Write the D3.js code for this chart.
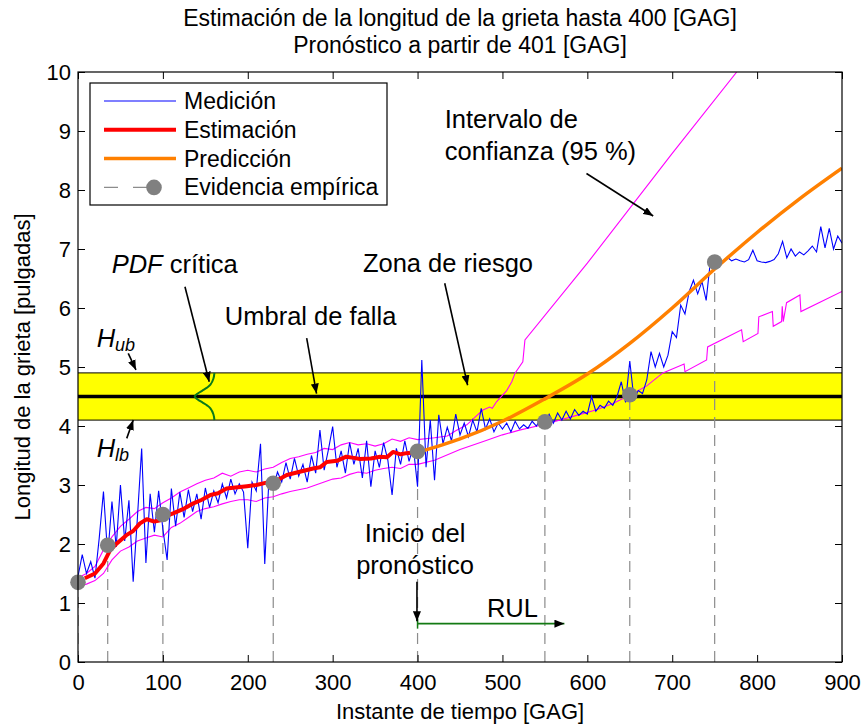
<!DOCTYPE html>
<html>
<head>
<meta charset="utf-8">
<title>Longitud de la grieta</title>
<script src="https://cdn.jsdelivr.net/npm/d3@7"></script>
<style>
body { margin: 0; background: #fff; }
svg text { font-family: "Liberation Sans", Arial, Helvetica, sans-serif; fill: #000; }
</style>
</head>
<body>
<div id="chart"></div>
<script>

// medición: una lectura cada 5 GAG, de 0 a 900
var measStep = 5;
var measLen = [
  1.45,1.82,1.5,1.7,1.42,2.1,2.89,1.8,2.72,1.95,3.0,2.05,2.74,1.36,2.45,3.62,1.68,2.85,2.2,2.9,
  2.25,1.73,2.94,2.3,2.88,2.45,2.92,2.55,2.85,2.42,2.95,2.62,2.9,2.7,3.02,2.78,3.1,2.85,3.02,2.88,
  1.93,3.05,2.9,3.7,1.66,3.12,2.95,3.22,3.05,3.38,3.1,3.45,3.15,3.35,3.05,3.5,3.2,3.93,3.25,3.6,
  3.99,3.3,3.58,3.2,3.72,3.35,3.62,3.12,3.75,2.97,3.58,3.3,3.72,3.42,2.83,3.62,3.35,3.75,3.4,3.65,
  2.97,5.12,3.3,4.1,3.08,4.19,3.7,3.98,3.75,4.2,3.85,4.05,3.82,4.1,3.9,4.3,3.95,4.12,3.9,4.05,
  3.95,4.05,3.9,4.08,3.95,4.02,3.96,4.08,4.0,4.12,4.05,4.2,4.05,4.22,4.1,4.25,4.12,4.28,4.18,4.25,
  4.2,4.5,4.25,4.35,4.3,4.42,4.35,4.5,4.75,4.4,5.1,4.45,4.6,4.55,4.78,5.26,5.0,5.23,5.0,5.2,
  5.6,5.5,6.05,5.9,6.28,6.47,6.24,6.45,6.13,6.8,6.8,6.82,6.79,6.86,6.8,6.83,6.8,6.78,6.82,6.98,
  6.8,6.78,6.77,6.79,6.82,6.92,7.13,6.85,7.0,6.88,6.95,6.9,6.97,7.05,6.95,7.38,7.02,7.35,7.0,7.22,
  7.1];

// estimación (hasta 400 GAG)
var estT = [8,20,30,38,45,57,65,73,81,90,97,105,112,125,136,146,156,165,175,188,
  199,210,222,232,246,260,277,285,293,305,316,325,332,345,356,364,371,380,387,395,400];
var estY = [1.42,1.5,1.67,1.9,2.0,2.15,2.22,2.35,2.42,2.38,2.4,2.48,2.52,2.6,2.69,2.75,2.83,2.86,2.94,2.96,
  2.98,3.0,3.04,3.06,3.17,3.22,3.28,3.3,3.39,3.41,3.48,3.46,3.44,3.45,3.48,3.47,3.56,3.52,3.54,3.55,3.57];

// predicción (desde 400 GAG)
var predT = [400,450,500,550,600,650,700,750,800,850,900];
var predY = [3.55,3.78,4.08,4.46,4.88,5.4,6.0,6.66,7.28,7.85,8.37];

// intervalo de confianza 95 %: [instante, longitud]
var ciUpper = [[3,1.45],[10,1.5],[20,1.62],[30,1.9],[40,2.12],[50,2.3],[60,2.42],[70,2.55],[80,2.62],[90,2.6],
  [100,2.7],[110,2.78],[120,2.88],[130,2.95],[140,3.02],[150,3.08],[160,3.12],[170,3.2],[180,3.15],[190,3.22],
  [200,3.25],[210,3.22],[220,3.27],[230,3.3],[240,3.38],[250,3.45],[260,3.48],[270,3.52],[280,3.55],[290,3.62],
  [300,3.6],[310,3.68],[320,3.72],[330,3.68],[340,3.7],[350,3.66],[360,3.7],[370,3.78],[380,3.74],[390,3.8],
  [400,3.77],[420,3.8],[435,3.83],[445,3.92],[458,4.02],[470,4.18],[477,4.27],[485,4.32],[488,4.3],[493,4.41],
  [505,4.6],[511,4.75],[515,4.9],[524,5.09],[526.5,5.46],[600,6.76],[700,8.62],[776,10]];
var ciLower = [[3,1.3],[10,1.32],[20,1.38],[30,1.5],[40,1.73],[50,1.88],[60,1.95],[70,2.05],[80,2.1],[90,2.15],
  [100,2.12],[110,2.28],[120,2.35],[130,2.45],[140,2.55],[150,2.6],[160,2.63],[170,2.68],[180,2.72],[190,2.75],
  [200,2.75],[210,2.72],[220,2.78],[230,2.8],[240,2.85],[250,2.89],[260,2.92],[270,2.95],[280,3.0],[290,3.05],
  [300,3.1],[310,3.12],[320,3.18],[330,3.22],[340,3.2],[350,3.25],[360,3.28],[370,3.3],[380,3.28],[390,3.35],
  [400,3.35],[420,3.42],[450,3.6],[480,3.75],[500,3.85],[520,3.93],[550,4.03],[580,4.15],[610,4.27],[630,4.38],
  [650,4.52],[670,4.68],[689,4.9],[714,5.05],[715,4.92],[740.5,5.12],[741.7,5.34],[781.7,5.63],[783.6,5.43],
  [801,5.57],[802,5.85],[818,5.94],[819,5.69],[828.8,5.77],[829.6,6.03],[830.8,5.77],[834.7,6.09],[850.4,6.22],
  [851.6,5.94],[900,6.28]];

// evidencia empírica
var evT = [0,35,100,230,400,550,650,750];
var evY = [1.35,1.98,2.5,3.03,3.57,4.07,4.53,6.78];

// umbral de falla y zona de riesgo
var threshold = 4.5;
var riskBand = [4.1, 4.9];

// PDF crítica (ancho hacia la izquierda, en GAG)
var pdfBase = 161;
var pdfY = [4.1,4.2,4.3,4.35,4.4,4.45,4.5,4.55,4.6,4.65,4.7,4.8,4.9];
var pdfW = [0.3,1.5,5,9,14.5,20,23.5,20,14.5,9,5,1.5,0.3];

// RUL
var rulStart = 400, rulEnd = 573, rulLevel = 0.65;

var xTicks = [0,100,200,300,400,500,600,700,800,900];
var yTicks = [0,1,2,3,4,5,6,7,8,9,10];

var width = 863, height = 727;
var x = d3.scaleLinear().domain([0, 900]).range([78, 842]);
var y = d3.scaleLinear().domain([0, 10]).range([662, 72]);

var svg = d3.select('#chart').append('svg')
  .attr('width', width)
  .attr('height', height);

var defs = svg.append('defs');
defs.append('clipPath').attr('id', 'plotclip')
  .append('rect')
  .attr('x', x(0)).attr('y', y(10))
  .attr('width', x(900) - x(0)).attr('height', y(0) - y(10));

function arrowHead(id, color) {
  defs.append('marker').attr('id', id)
    .attr('viewBox', '0 0 10 8')
    .attr('refX', 10).attr('refY', 4)
    .attr('markerWidth', 10).attr('markerHeight', 8)
    .attr('markerUnits', 'userSpaceOnUse')
    .attr('orient', 'auto')
    .append('path').attr('d', 'M0,0L10,4L0,8Z').attr('fill', color);
}
arrowHead('ahBlack', '#000');

var plot = svg.append('g').attr('clip-path', 'url(#plotclip)');

// zona de riesgo
plot.append('rect')
  .attr('x', x(0)).attr('width', x(900) - x(0))
  .attr('y', y(riskBand[1])).attr('height', y(riskBand[0]) - y(riskBand[1]))
  .attr('fill', '#ffff00');
riskBand.forEach(function(v) {
  plot.append('line')
    .attr('x1', x(0)).attr('x2', x(900))
    .attr('y1', y(v)).attr('y2', y(v))
    .attr('stroke', '#000').attr('stroke-width', 1);
});
plot.append('line')
  .attr('x1', x(0)).attr('x2', x(900))
  .attr('y1', y(threshold)).attr('y2', y(threshold))
  .attr('stroke', '#000').attr('stroke-width', 3.5);

// PDF crítica
var pdfLine = d3.line()
  .x(function(d, i) { return x(pdfBase - pdfW[i]); })
  .y(function(d) { return y(d); })
  .curve(d3.curveCatmullRom);
plot.append('path')
  .attr('d', pdfLine(pdfY))
  .attr('fill', 'none')
  .attr('stroke', '#0a7a1a')
  .attr('stroke-width', 2);

// lineas verticales de evidencia
evT.forEach(function(t, i) {
  plot.append('line')
    .attr('x1', x(t)).attr('x2', x(t))
    .attr('y1', y(0)).attr('y2', y(evY[i]))
    .attr('stroke', '#8c8c8c').attr('stroke-width', 1.2)
    .attr('stroke-dasharray', '11,7');
});

var pairLine = d3.line()
  .x(function(d) { return x(d[0]); })
  .y(function(d) { return y(d[1]); });

// intervalo de confianza
[ciUpper, ciLower].forEach(function(c) {
  plot.append('path')
    .attr('d', pairLine(c))
    .attr('fill', 'none')
    .attr('stroke', '#ff00ff')
    .attr('stroke-width', 1.1);
});

// medición
var measLine = d3.line()
  .x(function(d, i) { return x(i * measStep); })
  .y(function(d) { return y(d); });
plot.append('path')
  .attr('d', measLine(measLen))
  .attr('fill', 'none')
  .attr('stroke', '#0000ff')
  .attr('stroke-width', 1.1);

// estimación
var estLine = d3.line()
  .x(function(d, i) { return x(estT[i]); })
  .y(function(d) { return y(d); });
plot.append('path')
  .attr('d', estLine(estY))
  .attr('fill', 'none')
  .attr('stroke', '#ff0000')
  .attr('stroke-width', 4)
  .attr('stroke-linejoin', 'round');

// predicción
var predLine = d3.line()
  .x(function(d, i) { return x(predT[i]); })
  .y(function(d) { return y(d); })
  .curve(d3.curveCatmullRom);
plot.append('path')
  .attr('d', predLine(predY))
  .attr('fill', 'none')
  .attr('stroke', '#ff8000')
  .attr('stroke-width', 3.5);

// marcadores de evidencia
svg.append('g').selectAll('circle')
  .data(evT)
  .enter()
  .append('circle')
  .attr('cx', function(d) { return x(d); })
  .attr('cy', function(d, i) { return y(evY[i]); })
  .attr('r', 7.8)
  .attr('fill', '#808080');

// RUL
svg.append('line')
  .attr('x1', x(rulStart)).attr('x2', x(rulEnd))
  .attr('y1', y(rulLevel)).attr('y2', y(rulLevel))
  .attr('stroke', '#137a13').attr('stroke-width', 1.8)
  .attr('marker-end', 'url(#ahBlack)');
svg.append('line')
  .attr('x1', x(rulStart)).attr('x2', x(rulStart))
  .attr('y1', y(rulLevel) - 5).attr('y2', y(rulLevel) + 5)
  .attr('stroke', '#137a13').attr('stroke-width', 1.5);

// anotaciones
var annoSize = 25.5;
function label(txt, tx, ty, anchor) {
  return svg.append('text')
    .attr('x', x(tx)).attr('y', y(ty))
    .attr('text-anchor', anchor || 'start')
    .style('font-size', annoSize + 'px')
    .text(txt);
}
function arrow(x1, y1, x2, y2) {
  svg.append('line')
    .attr('x1', x(x1)).attr('y1', y(y1))
    .attr('x2', x(x2)).attr('y2', y(y2))
    .attr('stroke', '#000').attr('stroke-width', 1.6)
    .attr('marker-end', 'url(#ahBlack)');
}

label('Intervalo de', 432, 9.05);
label('confianza (95 %)', 432, 8.51);
arrow(599, 8.28, 677.6, 7.56);

label('Zona de riesgo', 536, 6.61, 'end');
arrow(432, 6.42, 459, 4.69);

label('Umbral de falla', 173, 5.71);
arrow(269.4, 5.49, 281, 4.55);

var pdfText = svg.append('text')
  .attr('x', x(39.7)).attr('y', y(6.59))
  .style('font-size', annoSize + 'px');
pdfText.append('tspan').style('font-style', 'italic').text('PDF');
pdfText.append('tspan').text(' crítica');
arrow(126, 6.36, 154.6, 4.75);

function hLabel(sub, tx, ty) {
  var t = svg.append('text')
    .attr('x', x(tx)).attr('y', y(ty))
    .style('font-size', annoSize + 'px')
    .style('font-style', 'italic');
  t.append('tspan').text('H');
  t.append('tspan').attr('dy', 4).style('font-size', '18px').text(sub);
}
hLabel('ub', 22, 5.34);
arrow(59.2, 5.23, 68.3, 4.95);
hLabel('lb', 22, 3.47);
arrow(57.4, 3.79, 65.1, 4.1);

label('Inicio del', 397, 2.03, 'middle');
label('pronóstico', 397, 1.49, 'middle');
arrow(399.3, 1.36, 399.3, 0.69);
label('RUL', 511.8, 0.76, 'middle');

// ejes
var axFont = 22;
var gx = svg.append('g')
  .attr('transform', 'translate(0,' + y(0) + ')')
  .call(d3.axisBottom(x).tickValues(xTicks).tickSize(-7).tickSizeOuter(0).tickPadding(12));
var gy = svg.append('g')
  .attr('transform', 'translate(' + x(0) + ',0)')
  .call(d3.axisLeft(y).tickValues(yTicks).tickSize(-7).tickSizeOuter(0).tickPadding(7));
svg.append('g')
  .attr('transform', 'translate(0,' + y(10) + ')')
  .call(d3.axisTop(x).tickValues(xTicks).tickSize(-7).tickSizeOuter(0).tickFormat(''));
svg.append('g')
  .attr('transform', 'translate(' + x(900) + ',0)')
  .call(d3.axisRight(y).tickValues(yTicks).tickSize(-7).tickSizeOuter(0).tickFormat(''));
svg.selectAll('.domain').remove();
svg.selectAll('.tick line').attr('stroke', '#000').attr('stroke-width', 1);
[gx, gy].forEach(function(g) {
  g.selectAll('text')
    .style('font-size', axFont + 'px')
    .style('font-family', '"Liberation Sans", Arial, sans-serif')
    .attr('fill', '#000');
});

svg.append('rect')
  .attr('x', x(0)).attr('y', y(10))
  .attr('width', x(900) - x(0)).attr('height', y(0) - y(10))
  .attr('fill', 'none').attr('stroke', '#000').attr('stroke-width', 1.2);

svg.append('text')
  .attr('x', (x(0) + x(900)) / 2).attr('y', 719)
  .attr('text-anchor', 'middle')
  .style('font-size', axFont + 'px')
  .text('Instante de tiempo [GAG]');
svg.append('text')
  .attr('transform', 'translate(30,' + (y(0) + y(10)) / 2 + ') rotate(-90)')
  .attr('text-anchor', 'middle')
  .style('font-size', axFont + 'px')
  .text('Longitud de la grieta [pulgadas]');

// título
svg.append('text')
  .attr('x', 460).attr('y', 26)
  .attr('text-anchor', 'middle')
  .style('font-size', '23px')
  .text('Estimación de la longitud de la grieta hasta 400 [GAG]');
svg.append('text')
  .attr('x', 460).attr('y', 53)
  .attr('text-anchor', 'middle')
  .style('font-size', '23px')
  .text('Pronóstico a partir de 401 [GAG]');

// leyenda
var legend = svg.append('g');
legend.append('rect')
  .attr('x', 90).attr('y', 83)
  .attr('width', 297).attr('height', 122)
  .attr('fill', '#fff').attr('stroke', '#000').attr('stroke-width', 1.2);
var legItems = [
  {name: 'Medición', color: '#0000ff', w: 1.2},
  {name: 'Estimación', color: '#ff0000', w: 4},
  {name: 'Predicción', color: '#ff8000', w: 3.5},
  {name: 'Evidencia empírica', color: '#8c8c8c', w: 1.2, dash: '14,15'}
];
legItems.forEach(function(d, i) {
  var cy = 101 + i * 28.8;
  legend.append('line')
    .attr('x1', 104).attr('x2', d.dash ? 154 : 176)
    .attr('y1', cy).attr('y2', cy)
    .attr('stroke', d.color).attr('stroke-width', d.w)
    .attr('stroke-dasharray', d.dash || null);
  if (d.dash) {
    legend.append('circle')
      .attr('cx', 154).attr('cy', cy).attr('r', 7.8)
      .attr('fill', '#808080');
  }
  legend.append('text')
    .attr('x', 184).attr('y', cy + 8)
    .style('font-size', '23px')
    .text(d.name);
});
</script>
</body>
</html>
